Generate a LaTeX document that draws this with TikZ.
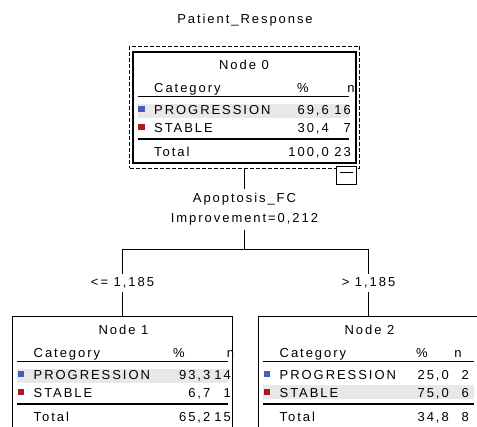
\documentclass[tikz,border=0pt]{standalone}
\usepackage{fontspec}
\setmainfont{Liberation Sans}[LetterSpace=15]
\usetikzlibrary{positioning}
\definecolor{progblue}{RGB}{64,96,192}
\definecolor{stabred}{RGB}{176,24,24}
\definecolor{rowgray}{RGB}{232,232,232}
\tikzset{
  lbl/.style={inner sep=0pt},
  treebox/.style={draw, line width=1pt, inner sep=0pt, minimum width=220pt, minimum height=112pt},
  rowrule/.style={line width=1.2pt},
  keysq/.style={minimum size=6.5pt, inner sep=0pt},
  cut/.style={fill=white, inner xsep=1pt, inner ysep=3pt},
}
\begin{document}
\begin{tikzpicture}[x=1pt,y=-1pt,font=\fontsize{13}{15}\selectfont]
    \useasboundingbox (0,0) rectangle (477,427);
    \node[lbl] (ttl) at (245,20) {Patient\_Response};
    % root node with its frame and toggle
    \node[treebox, line width=2pt, minimum width=223pt, minimum height=111pt] (n0) at (244.5,107.5) {};
    \node[draw, line width=1pt, dash pattern=on 4pt off 2pt, inner sep=0pt, minimum width=230pt, minimum height=122pt] (n0frame) at (244.5,107.5) {};
    \node[draw, fill=white, line width=1pt, inner sep=0pt, minimum width=20pt, minimum height=18pt] (n0tog) at (346,176) {};
    \draw[line width=1.2pt] ([xshift=4pt,yshift=-6pt]n0tog.north west) -- ([xshift=-4pt,yshift=-6pt]n0tog.north east);
    % child nodes
    \node[treebox] (n1) at (122.5,373) {};
    \node[treebox] (n2) at (368.5,373) {};
    \foreach \i/\lx/\ty/\pc/\pr/\nc/\nr/\hl/\pa/\na/\pb/\nb/\pt/\nt in {
        0/133/52/170/196/218/218/52/{69,6}/16/{30,4}/7/{100,0}/23,
        1/12.5/317/166.5/198/218/218.5/52/{93,3}/14/{6,7}/1/{65,2}/15,
        2/258.5/317/163.5/190.5/199.5/210.5/68/{25,0}/2/{75,0}/6/{34,8}/8} {
        \begin{scope}[shift={(\lx,\ty)}]
            \fill[rowgray] (4.5,\hl) rectangle (215.5,\hl+14);
            \node[lbl, anchor=base] (t\i) at (111,17.5) {Node \i};
            \node[lbl, anchor=base west] (ch\i) at (21,40.5) {Category};
            \node[lbl, anchor=base] (ph\i) at (\pc,40.5) {\%};
            \node[lbl, anchor=base] (nh\i) at (\nc,40.5) {n};
            \draw[rowrule] (4.5,44.5) -- (215.5,44.5);
            \node[keysq, fill=progblue, anchor=north west] (sqa\i) at (5,53.5) {};
            \node[lbl, anchor=base west] (ca\i) at (21,62.5) {PROGRESSION};
            \node[lbl, anchor=base east] (pa\i) at (\pr,62.5) {\pa};
            \node[lbl, anchor=base east] (na\i) at (\nr,62.5) {\na};
            \node[keysq, fill=stabred, anchor=north west] (sqb\i) at (5,71.5) {};
            \node[lbl, anchor=base west] (cb\i) at (21,80.5) {STABLE};
            \node[lbl, anchor=base east] (pb\i) at (\pr,80.5) {\pb};
            \node[lbl, anchor=base east] (nb\i) at (\nr,80.5) {\nb};
            \draw[rowrule] (4.5,87) -- (215.5,87);
            \node[lbl, anchor=base west] (ct\i) at (21,105) {Total};
            \node[lbl, anchor=base east] (pt\i) at (\pr,105) {\pt};
            \node[lbl, anchor=base east] (nt\i) at (\nr,105) {\nt};
        \end{scope}
    }
    % split and branch labels
    \node[align=center, inner xsep=0pt, inner ysep=4pt, anchor=north, font=\fontsize{13}{20}\selectfont] (split) at (244.5,189) {Apoptosis\_FC\\Improvement=0,212};
    \node[cut] (le) at (122.5,283) {<= 1,185};
    \node[cut] (re) at (368.5,283) {> 1,185};
    \coordinate (fork) at (244.5,250);
    \draw[line width=1pt] (n0frame.south) -- (split.north);
    \draw[line width=1pt] (split.south) -- (fork);
    \draw[line width=1pt] (le.north) |- (fork);
    \draw[line width=1pt] (re.north) |- (fork);
    \draw[line width=1pt] (le.south) -- (n1.north);
    \draw[line width=1pt] (re.south) -- (n2.north);
\end{tikzpicture}
\end{document}
